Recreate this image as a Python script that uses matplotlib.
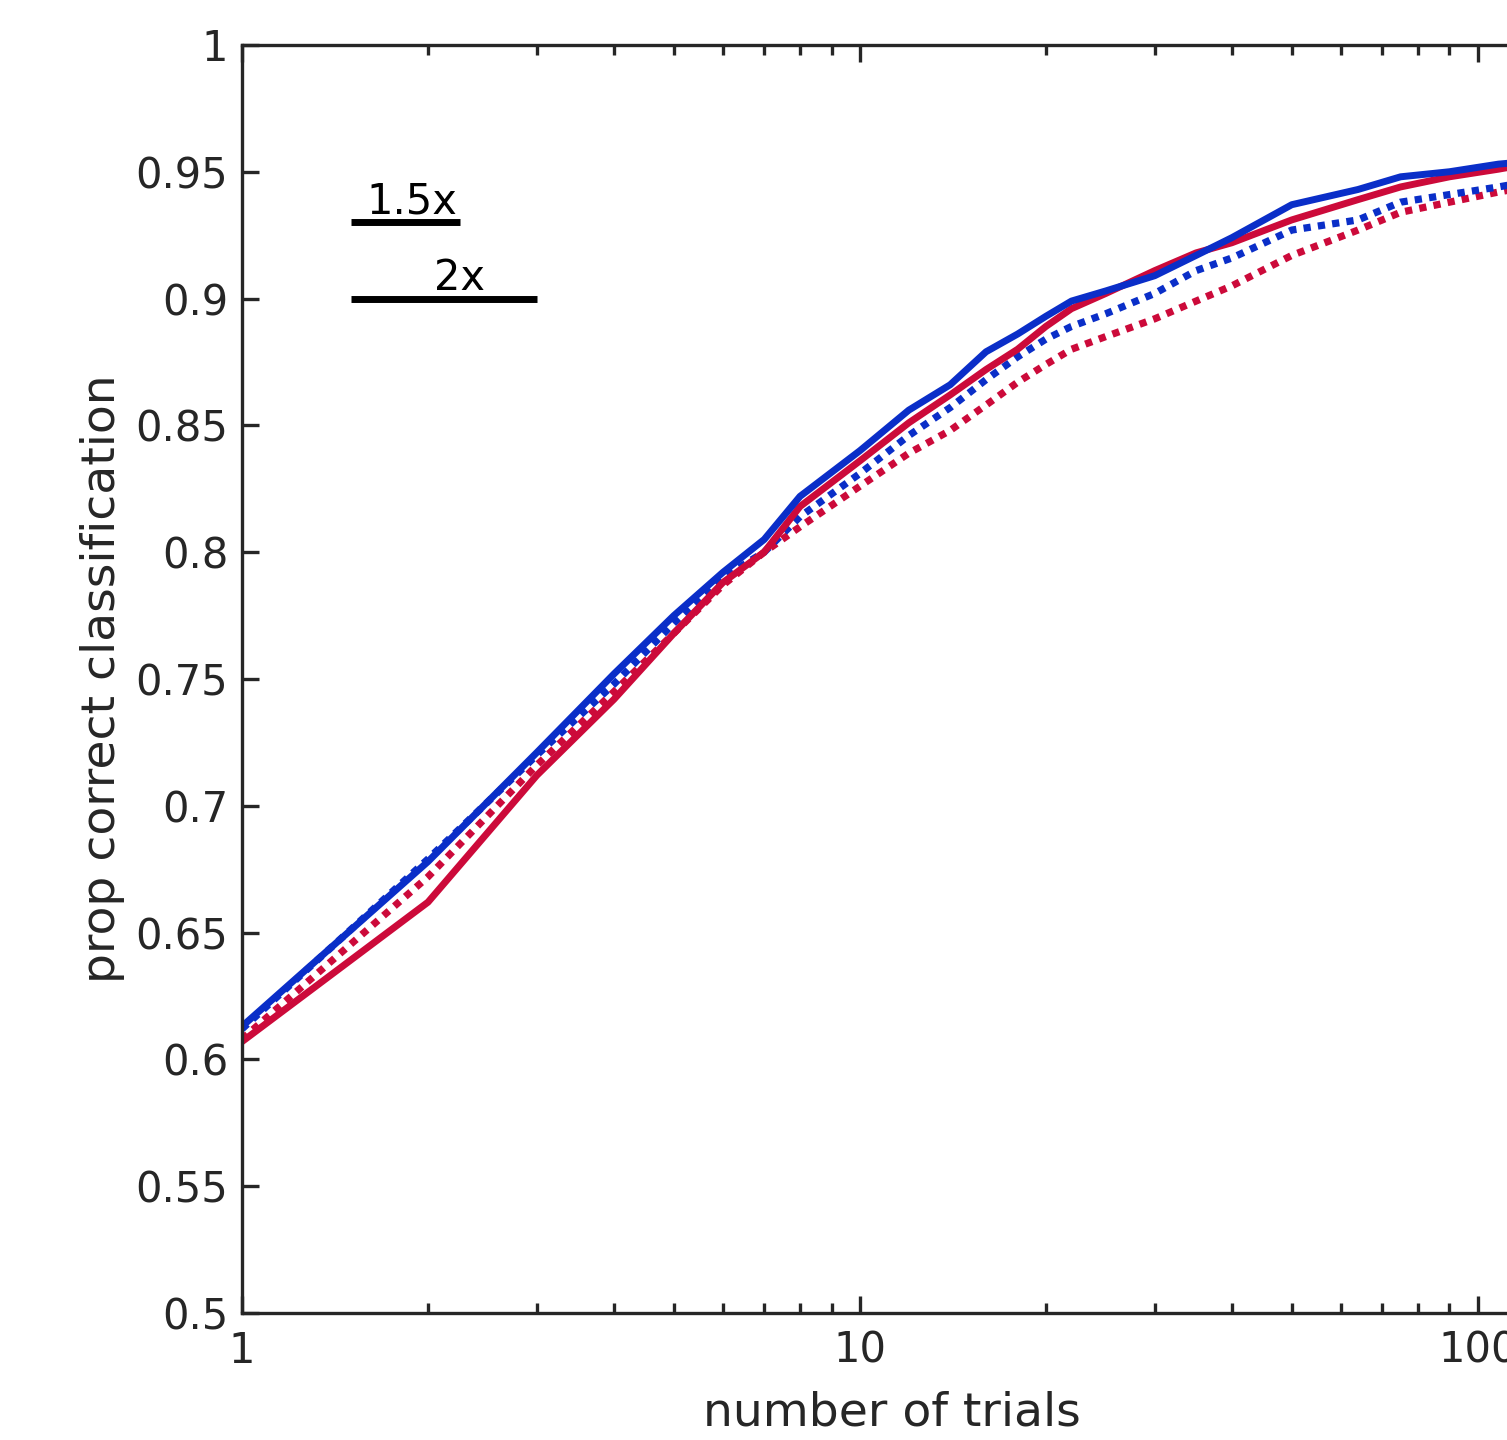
import matplotlib
matplotlib.use("Agg")
import matplotlib.pyplot as plt
import numpy as np

# number of trials (x) and proportion correct for the four conditions
trials = [1, 2, 3, 4, 5, 6, 7, 8, 10, 12, 14, 16, 18, 20, 22, 25, 30, 35, 40, 50, 64, 75, 90, 108, 120]

blue_solid = [0.613, 0.678, 0.721, 0.752, 0.775, 0.792, 0.805, 0.822, 0.840, 0.856, 0.866,
              0.879, 0.886, 0.893, 0.899, 0.903, 0.909, 0.917, 0.924, 0.937, 0.943, 0.948,
              0.950, 0.953, 0.954]
red_solid = [0.607, 0.662, 0.712, 0.742, 0.768, 0.788, 0.800, 0.818, 0.836, 0.851, 0.862,
             0.872, 0.880, 0.889, 0.896, 0.902, 0.911, 0.918, 0.922, 0.931, 0.939, 0.944,
             0.948, 0.951, 0.953]
blue_dot = [0.612, 0.679, 0.720, 0.748, 0.772, 0.790, 0.800, 0.814, 0.831, 0.846, 0.857,
            0.868, 0.877, 0.884, 0.889, 0.894, 0.902, 0.911, 0.916, 0.927, 0.931, 0.938,
            0.941, 0.944, 0.946]
red_dot = [0.608, 0.672, 0.716, 0.745, 0.768, 0.787, 0.800, 0.810, 0.826, 0.839, 0.848,
           0.858, 0.867, 0.874, 0.880, 0.885, 0.892, 0.899, 0.905, 0.917, 0.927, 0.934,
           0.938, 0.942, 0.944]

# scale bars: label, start, stop, y, label centre
bar_labels = ["1.5x", "2x"]
bar_start = [1.5, 1.5]
bar_stop = [2.25, 3.0]
bar_y = [0.93, 0.90]
bar_text_x = [1.88, 2.245]

BLUE = "#0a2ec8"
RED = "#cc0a3a"
INK = "#262626"

plt.rcParams["font.family"] = "DejaVu Sans"

fig = plt.figure(figsize=(15.07, 14.4), dpi=100)
# axes runs past the right edge of the figure, as in the original crop
ax_w = 1.23
ax = fig.add_axes([0.1606, 0.0882, ax_w, 0.8806])

dots = (0, (1.0, 1.0))
ax.plot(trials, red_dot, color=RED, lw=5.2, ls=dots)
ax.plot(trials, blue_dot, color=BLUE, lw=5.2, ls=dots)
ax.plot(trials, red_solid, color=RED, lw=5.0)
ax.plot(trials, blue_solid, color=BLUE, lw=5.0)

for lab, x0, x1, y, tx in zip(bar_labels, bar_start, bar_stop, bar_y, bar_text_x):
    ax.plot([x0, x1], [y, y], color="black", lw=5, solid_capstyle="butt")
    ax.text(tx, y + 0.0035, lab, ha="center", va="baseline", fontsize=30, color="black")

ax.set_xscale("log")
ax.set_xlim(1, 1000)
ax.set_ylim(0.5, 1.0)
ax.set_yticks(np.arange(0.5, 1.001, 0.05))
ax.set_yticklabels(["0.5", "0.55", "0.6", "0.65", "0.7", "0.75", "0.8", "0.85", "0.9", "0.95", "1"])
ax.set_xticks([1, 10, 100, 1000])
ax.set_xticklabels(["1", "10", "100", "1000"])

for s in ax.spines.values():
    s.set_linewidth(2.4)
    s.set_color(INK)
ax.tick_params(which="major", direction="in", length=12, width=2.4, color=INK,
               labelcolor=INK, labelsize=30, top=True, right=True, pad=12)
ax.tick_params(axis="y", which="major", pad=10)
ax.tick_params(which="minor", direction="in", length=7, width=2.4, color=INK,
               top=True, right=True)
ax.tick_params(axis="y", which="minor", left=False, right=False)

ax.set_xlabel("number of trials", fontsize=34, color=INK)
ax.set_ylabel("prop correct classification", fontsize=34, color=INK)
ax.xaxis.set_label_coords((892 - 242) / (ax_w * 1507), -0.061)
ax.yaxis.set_label_coords((125 - 242) / (ax_w * 1507), 0.5)

fig.savefig("out.png", dpi=100)
